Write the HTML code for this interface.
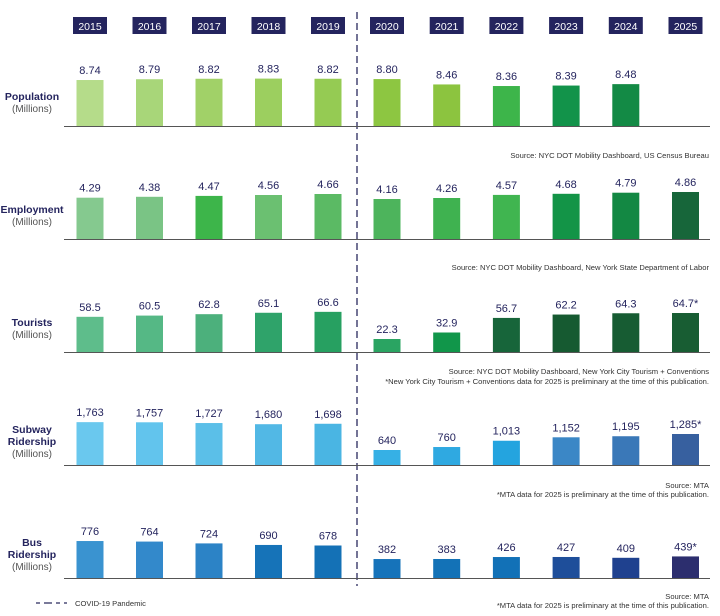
<!DOCTYPE html>
<html><head><meta charset="utf-8"><style>
html,body{margin:0;padding:0;background:#fff;}
svg{display:block;font-family:"Liberation Sans",sans-serif;}
</style></head><body>
<svg id="chart" width="720" height="616" viewBox="0 0 720 616"></svg>
<script>
const years = ["2015","2016","2017","2018","2019","2020","2021","2022","2023","2024","2025"];
const populationValues = [8.74,8.79,8.82,8.83,8.82,8.80,8.46,8.36,8.39,8.48,null];
const populationLabels = ["8.74","8.79","8.82","8.83","8.82","8.80","8.46","8.36","8.39","8.48",""];
const employmentValues = [4.29,4.38,4.47,4.56,4.66,4.16,4.26,4.57,4.68,4.79,4.86];
const employmentLabels = ["4.29","4.38","4.47","4.56","4.66","4.16","4.26","4.57","4.68","4.79","4.86"];
const touristValues = [58.5,60.5,62.8,65.1,66.6,22.3,32.9,56.7,62.2,64.3,64.7];
const touristLabels = ["58.5","60.5","62.8","65.1","66.6","22.3","32.9","56.7","62.2","64.3","64.7*"];
const subwayValues = [1763,1757,1727,1680,1698,640,760,1013,1152,1195,1285];
const subwayLabels = ["1,763","1,757","1,727","1,680","1,698","640","760","1,013","1,152","1,195","1,285*"];
const busValues = [776,764,724,690,678,382,383,426,427,409,439];
const busLabels = ["776","764","724","690","678","382","383","426","427","409","439*"];

const NS="http://www.w3.org/2000/svg";
const svg=document.getElementById('chart');
function mk(tag,attrs,parent){const e=document.createElementNS(NS,tag);for(const k in attrs)e.setAttribute(k,attrs[k]);(parent||svg).appendChild(e);return e;}
function xCenter(i){return i<5?90+i*59.5:387+(i-5)*59.7;}

years.forEach((y,i)=>{
  const g=mk('g',{});
  
  
  mk('rect',{x:xCenter(i)-17,y:17,width:34,height:17,fill:'#24245e'},g);
  const t=mk('text',{x:xCenter(i),y:30,'text-anchor':'middle','font-size':'10.5',fill:'#fff'},g);
  t.textContent=y;
});

const dl=mk('line',{x1:357,y1:12,x2:357,y2:586,stroke:'#2a2a5e','stroke-width':1.3,'stroke-dasharray':'7,4'});



const rows=[
 {key:'population',title:['Population'],ty:100,base:126,scale:15.8,off:5.83,vals:populationValues,labels:populationLabels,
  colors:['#b5dc8a','#a8d679','#a1d168','#9ccf5f','#95cb53','#8dc641','#8cc43f','#3db54a','#12934a','#138a45','#138a45'],
  src:[['Source: NYC DOT Mobility Dashboard, US Census Bureau',158]]},
 {key:'employment',title:['Employment'],ty:213,base:239,scale:10,off:0.16,vals:employmentValues,labels:employmentLabels,
  colors:['#85c98f','#7ac485','#3db54a','#6bc071','#5bba64','#4db45c','#3fb250','#40b550','#139447','#138843','#17663a'],
  src:[['Source: NYC DOT Mobility Dashboard, New York State Department of Labor',270]]},
 {key:'tourists',title:['Tourists'],ty:326,base:352,scale:0.613,off:1.1,vals:touristValues,labels:touristLabels,
  colors:['#5ebd8b','#55b885','#4cb07c','#2fa36a','#27a061','#2aa462','#11964a','#17653a','#165a31','#175c33','#185d33'],
  src:[['Source: NYC DOT Mobility Dashboard, New York City Tourism + Conventions',374],['*New York City Tourism + Conventions  data for 2025 is preliminary at the time of this publication.',384]]},
 {key:'subway',title:['Subway','Ridership'],ty:433,base:465,scale:0.0248,off:35,vals:subwayValues,labels:subwayLabels,
  colors:['#6ac8ee','#62c4ed','#5bbfe8','#52b8e5','#4ab5e3','#36b0e5','#2fa9e1','#24a4df','#3b87c6','#3a78b8','#37609f'],
  src:[['Source: MTA',488],['*MTA  data for 2025 is preliminary at the time of this publication.',497]]},
 {key:'bus',title:['Bus','Ridership'],ty:546,base:578,scale:0.0457,off:-33,vals:busValues,labels:busLabels,
  colors:['#3a93d0','#3389cb','#2c83c6','#1673b8','#1471b6','#1673ba','#1372b7','#1271b7','#1e4e9a','#1f418f','#2c2e6e'],
  src:[['Source:  MTA',599],['*MTA data for 2025 is preliminary at the time of this publication.',608]]}
];

rows.forEach(r=>{
  const g=mk('g',{});
  
  
  let yy=r.ty;
  r.title.forEach(line=>{
    const t=mk('text',{x:32,y:yy,'text-anchor':'middle','font-size':'10.5','font-weight':'bold',fill:'#24245e'},g);
    t.textContent=line;
    
    
    yy+=12;
  });
  const u=mk('text',{x:32,y:yy,'text-anchor':'middle','font-size':'10',fill:'#555'},g);
  u.textContent='(Millions)';
  
  
  const ax=mk('line',{x1:64,y1:r.base+0.5,x2:710,y2:r.base+0.5,stroke:'#555','stroke-width':1},g);
  
  
  r.vals.forEach((v,i)=>{
    if(v==null)return;
    const h=r.scale*(v-r.off);
    const x=xCenter(i);
    const b=mk('rect',{x:x-13.5,y:r.base-h,width:27,height:h,fill:r.colors[i]},g);
    
    
    const t=mk('text',{x:x,y:r.base-h-6,'text-anchor':'middle','font-size':'11',fill:'#24245e'},g);
    t.textContent=r.labels[i];
    
    
  });
  r.src.forEach(s=>{
    const t=mk('text',{x:709,y:s[1],'text-anchor':'end','font-size':'7.6',fill:'#333'},g);
    t.textContent=s[0];
    
    
  });
});

const lg=mk('g',{});


mk('line',{x1:36,y1:603,x2:67,y2:603,stroke:'#2a2a5e','stroke-width':1.3,'stroke-dasharray':'4,4,8,4'},lg);
const lt=mk('text',{x:75,y:606,'font-size':'7.6',fill:'#333'},lg);
lt.textContent='COVID-19 Pandemic';
</script>
</body></html>
